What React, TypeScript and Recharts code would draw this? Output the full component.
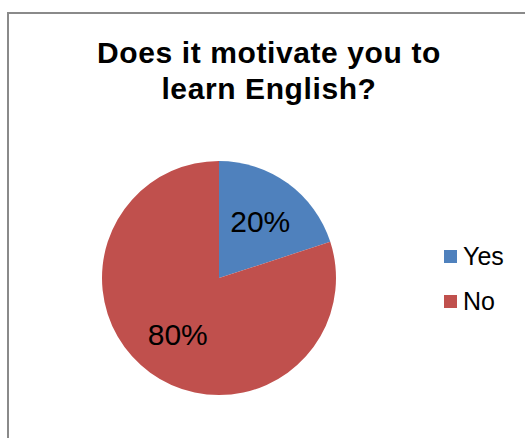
import { PieChart, Pie, Cell, Legend } from 'recharts'

const answers = ['Yes', 'No']
const shares = [20, 80]
const colors = ['#4F81BD', '#C0504D']

const data = answers.map((name, i) => ({ name, value: shares[i] }))

const RAD = Math.PI / 180
const FONT = 'Liberation Sans, Arial, sans-serif'

const renderLabel = (props: any) => {
  const { cx, cy, midAngle, outerRadius, value } = props
  const r = outerRadius * 0.6
  const x = cx + r * Math.cos(-midAngle * RAD)
  const y = cy + r * Math.sin(-midAngle * RAD)
  return (
    <text
      x={x}
      y={y}
      fill="#000"
      fontSize={30}
      fontFamily={FONT}
      textAnchor="middle"
      dominantBaseline="central"
    >
      {value + '%'}
    </text>
  )
}

const renderLegend = () => (
  <div style={{ fontFamily: FONT }}>
    {data.map((d, i) => (
      <div key={d.name} style={{ display: 'flex', alignItems: 'center', height: 45 }}>
        <span style={{ width: 13, height: 13, background: colors[i], marginRight: 6 }} />
        <span style={{ fontSize: 25, color: '#000' }}>{d.name}</span>
      </div>
    ))}
  </div>
)

export default function App() {
  return (
    <div
      style={{
        position: 'absolute',
        left: 0,
        top: 0,
        width: 525,
        height: 438,
        overflow: 'hidden',
        background: '#fff',
      }}
    >
      <div
        style={{
          position: 'absolute',
          left: 7,
          top: 12,
          width: 600,
          height: 500,
          border: '2px solid #8a8a8a',
        }}
      />
      <div
        style={{
          position: 'absolute',
          left: 0,
          top: 35,
          width: 538,
          textAlign: 'center',
          fontFamily: FONT,
          fontWeight: 'bold',
          fontSize: 30,
          letterSpacing: 0.6,
          lineHeight: '36px',
          color: '#000',
        }}
      >
        Does it motivate you to
        <br />
        learn English?
      </div>
      <div style={{ position: 'absolute', left: 0, top: 0 }}>
        <PieChart width={525} height={438} margin={{ top: 0, right: 0, bottom: 0, left: 0 }}>
          <Pie
            data={data}
            dataKey="value"
            nameKey="name"
            cx={219}
            cy={278}
            outerRadius={117}
            startAngle={90}
            endAngle={-270}
            stroke="none"
            label={renderLabel}
            labelLine={false}
            isAnimationActive={false}
          >
            {data.map((d, i) => (
              <Cell key={d.name} fill={colors[i]} />
            ))}
          </Pie>
          <Legend
            content={renderLegend}
            wrapperStyle={{ position: 'absolute', left: 444, top: 234, width: 81 }}
          />
        </PieChart>
      </div>
    </div>
  )
}
